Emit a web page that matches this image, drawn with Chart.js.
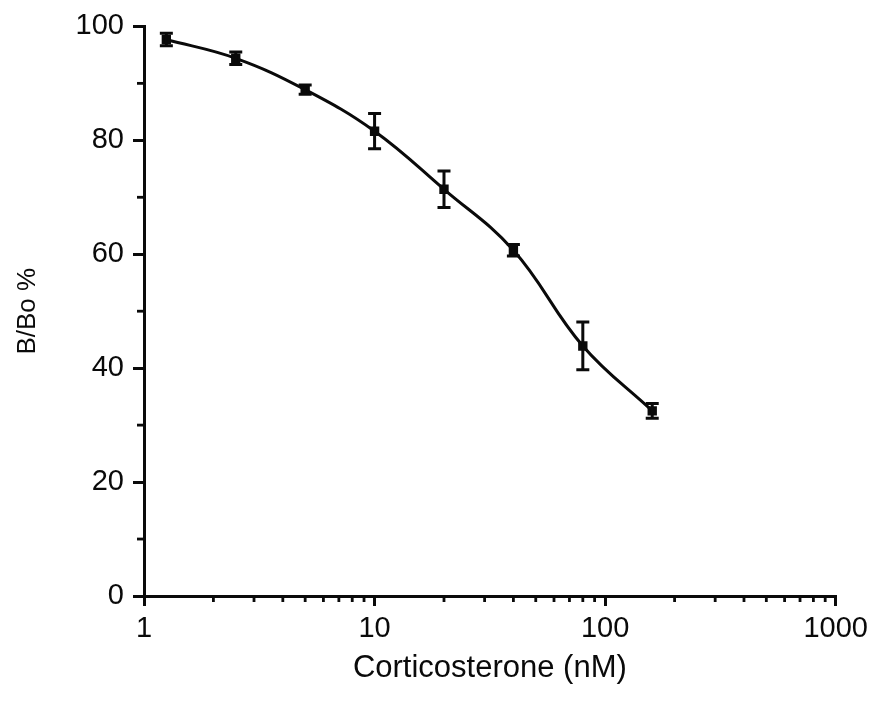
<!DOCTYPE html>
<html>
<head>
<meta charset="utf-8">
<script src="https://cdn.jsdelivr.net/npm/chart.js@4.4.1/dist/chart.umd.min.js"></script>
<style>
  html, body { margin: 0; padding: 0; background: #ffffff; }
  #wrap { width: 874px; height: 711px; position: relative; }
</style>
</head>
<body>
<div id="wrap"><canvas id="c" width="874" height="711"></canvas></div>
<script>
// ---- data ----
const concentrations = [1.25, 2.5, 5, 10, 20, 40, 80, 160];      // nM
const bBoPercent     = [97.7, 94.4, 88.9, 81.6, 71.4, 60.7, 43.9, 32.5];
const errorBars      = [1.1, 1.1, 0.8, 3.1, 3.2, 1.0, 4.2, 1.3];
const xMajorTicks    = [1, 10, 100, 1000];
const xMinorTicks    = [2,3,4,5,6,7,8,9, 20,30,40,50,60,70,80,90, 200,300,400,500,600,700,800,900];
const yMajorTicks    = [0, 20, 40, 60, 80, 100];
const yMinorTicks    = [10, 30, 50, 70, 90];
const xTitle = 'Corticosterone (nM)';
const yTitle = 'B/Bo %';

const INK = '#0a0a0a';
const FONT = '"Liberation Sans", Arial, Helvetica, sans-serif';

const points = concentrations.map((x, i) => ({ x: x, y: bBoPercent[i] }));

const extrasPlugin = {
  id: 'extras',
  afterDraw(chart) {
    const ctx = chart.ctx;
    const xs = chart.scales.x, ys = chart.scales.y;
    ctx.save();
    ctx.strokeStyle = INK;
    ctx.lineWidth = 2.8;
    ctx.lineCap = 'butt';
    // minor ticks x
    const xb = ys.getPixelForValue(0);
    xMinorTicks.forEach(v => {
      const px = xs.getPixelForValue(v);
      ctx.beginPath(); ctx.moveTo(px, xb); ctx.lineTo(px, xb + 6); ctx.stroke();
    });
    // minor ticks y
    const yl = xs.getPixelForValue(1);
    yMinorTicks.forEach(v => {
      const py = ys.getPixelForValue(v);
      ctx.beginPath(); ctx.moveTo(yl, py); ctx.lineTo(yl - 7, py); ctx.stroke();
    });
    // error bars
    ctx.lineWidth = 3;
    concentrations.forEach((x, i) => {
      const px = xs.getPixelForValue(x);
      const top = ys.getPixelForValue(bBoPercent[i] + errorBars[i]);
      const bot = ys.getPixelForValue(bBoPercent[i] - errorBars[i]);
      ctx.beginPath();
      ctx.moveTo(px, top); ctx.lineTo(px, bot);
      ctx.moveTo(px - 6.5, top); ctx.lineTo(px + 6.5, top);
      ctx.moveTo(px - 6.5, bot); ctx.lineTo(px + 6.5, bot);
      ctx.stroke();
    });
    ctx.restore();
  }
};

new Chart(document.getElementById('c'), {
  type: 'line',
  data: {
    datasets: [{
      data: points,
      borderColor: INK,
      backgroundColor: INK,
      borderWidth: 3,
      tension: 0.4,
      pointStyle: 'rect',
      pointRadius: 4.5,
      pointBackgroundColor: INK,
      pointBorderColor: INK,
      fill: false
    }]
  },
  options: {
    responsive: false,
    animation: false,
    layout: { padding: { left: 0, right: 0, top: 25, bottom: 0 } },
    plugins: { legend: { display: false }, tooltip: { enabled: false } },
    scales: {
      x: {
        type: 'logarithmic',
        min: 1, max: 1000,
        afterBuildTicks: s => { s.ticks = xMajorTicks.map(v => ({ value: v })); },
        afterFit: s => { s.height = 115; },
        border: { display: true, color: INK, width: 3 },
        grid: { display: true, drawOnChartArea: false, drawTicks: true, tickLength: 10, color: INK, lineWidth: 3 },
        ticks: {
          color: INK, font: { family: FONT, size: 29 }, padding: 6,
          maxRotation: 0, autoSkip: false,
          callback: v => String(v)
        },
        title: { display: true, text: xTitle, color: INK, font: { family: FONT, size: 31 }, padding: { top: 4, bottom: 24 } }
      },
      y: {
        min: 0, max: 100,
        afterBuildTicks: s => { s.ticks = yMajorTicks.map(v => ({ value: v })); },
        afterFit: s => { s.width = 144; },
        border: { display: true, color: INK, width: 3 },
        grid: { display: true, drawOnChartArea: false, drawTicks: true, tickLength: 11, color: INK, lineWidth: 3 },
        ticks: { color: INK, font: { family: FONT, size: 29 }, padding: 9 },
        title: { display: true, text: yTitle, color: INK, font: { family: FONT, size: 26 }, padding: { top: 12, bottom: 0 } }
      }
    }
  },
  plugins: [extrasPlugin]
});
</script>
</body>
</html>
